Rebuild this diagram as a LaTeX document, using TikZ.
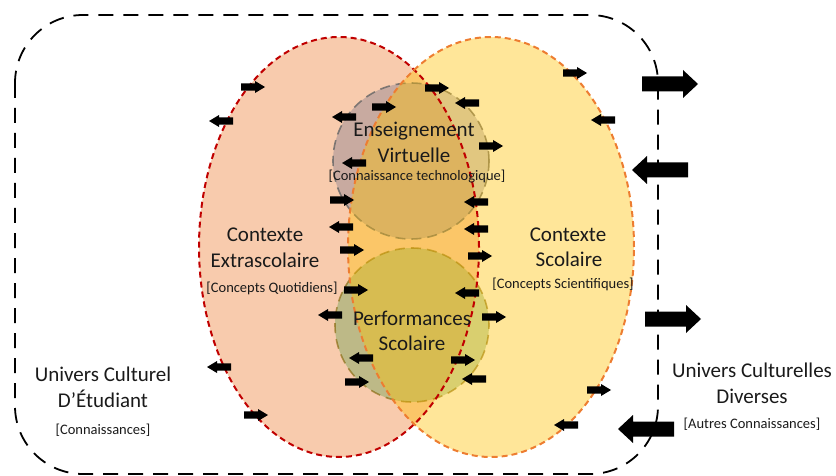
\documentclass[tikz,border=0pt]{standalone}
\usepackage{fontspec}
\setmainfont{Carlito}
\definecolor{txt}{HTML}{1A1A1A}
\definecolor{lorange}{HTML}{ED7D31}
\definecolor{lgold}{HTML}{FFC000}
\definecolor{lred}{HTML}{C00000}
\definecolor{mauve}{RGB}{111,109,136}
\definecolor{lgreen}{RGB}{100,160,80}
\definecolor{olive}{HTML}{7F6000}
\begin{document}
\begin{tikzpicture}[x=1pt,y=-1pt,
  big/.style={font=\fontsize{21}{25}\selectfont, text=txt, anchor=base, inner sep=0pt},
  small/.style={font=\fontsize{14.5}{17}\selectfont, text=txt, anchor=base, inner sep=0pt},
  outerbox/.style={draw=black, line width=1.8pt, dash pattern=on 15pt off 10pt, rounded corners=68pt},
  ellred/.style={draw=lred, line width=2pt, dash pattern=on 6pt off 4pt},
  ellorange/.style={draw=lorange, line width=2pt, dash pattern=on 6pt off 4pt},
  circgray/.style={fill=mauve, fill opacity=0.35, draw=gray!80!black, draw opacity=0.8, line width=1.6pt, dash pattern=on 10pt off 6pt},
  circgreen/.style={fill=lgreen, fill opacity=0.4, draw=olive, draw opacity=0.6, line width=1.6pt, dash pattern=on 10pt off 6pt},
  sarr/.pic={\fill[black] (-12,-3.6) -- (2,-3.6) -- (2,-6) -- (12,0) -- (2,6) -- (2,3.6) -- (-12,3.6) -- cycle;},
  barr/.pic={\fill[black] (-28,-7.5) -- (13,-7.5) -- (13,-14) -- (28,0) -- (13,14) -- (13,7.5) -- (-28,7.5) -- cycle;},
]
\useasboundingbox (0,0) rectangle (836,476);

% outer universe
\draw[outerbox] (15,15) rectangle (658,474);

% left ellipse fill
\fill[lorange, fill opacity=0.4] (339,247) ellipse [x radius=140pt, y radius=210pt];
% circles
\path[circgray] (411,161) circle [radius=78pt];
\path[circgreen] (412,325) circle [radius=77pt];
% right ellipse fill
\fill[lgold, fill opacity=0.4] (491,247) ellipse [x radius=143pt, y radius=210pt];
% ellipse outlines
\draw[ellred] (339,247) ellipse [x radius=140pt, y radius=210pt];
\draw[ellorange] (491,247) ellipse [x radius=143pt, y radius=210pt];

% texts
\node[big] (ens1) at (414,137) {Enseignement};
\node[big] (ens2) at (414,163) {Virtuelle};
\node[small] (ens3) at (417,181) {[Connaissance technologique]};

\node[big] (ext1) at (265,241) {Contexte};
\node[big] (ext2) at (265,267) {Extrascolaire};
\node[small] (ext3) at (272,292) {[Concepts Quotidiens]};

\node[big] (sco1) at (568,241) {Contexte};
\node[big] (sco2) at (569,266) {Scolaire};
\node[small] (sco3) at (563,288) {[Concepts Scientifiques]};

\node[big] (perf1) at (412,325) {Performances};
\node[big] (perf2) at (412,350) {Scolaire};

\node[big] (uc1) at (103,381) {Univers Culturel};
\node[big] (uc2) at (103,407) {D’Étudiant};
\node[small] (uc3) at (103,434) {[Connaissances]};

\node[big] (ud1) at (752,377) {Univers Culturelles};
\node[big] (ud2) at (752,403) {Diverses};
\node[small] (ud3) at (752,428) {[Autres Connaissances]};

% small arrows pointing right
\foreach \x/\y [count=\i] in {253/87, 384/107, 342/200, 575/73, 437/88, 491/146, 352/250, 356/290, 357/382, 256/415, 480/256, 494/317, 463/360, 599/390}
  \pic (ar\i) at (\x,\y) {sarr};
% small arrows pointing left
\foreach \x/\y [count=\i] in {221/121, 344/117, 354/163, 341/227, 467/103, 603/120, 476/202, 476/229, 330/315, 219/367, 361/358, 467/293, 474/379, 566/425}
  \pic[rotate=180] (al\i) at (\x,\y) {sarr};
% big arrows
\pic (br1) at (670,84) {barr};
\pic (br2) at (673,319) {barr};
\pic[rotate=180] (bl1) at (660,170) {barr};
\pic[rotate=180] (bl2) at (646,429) {barr};
\end{tikzpicture}
\end{document}
